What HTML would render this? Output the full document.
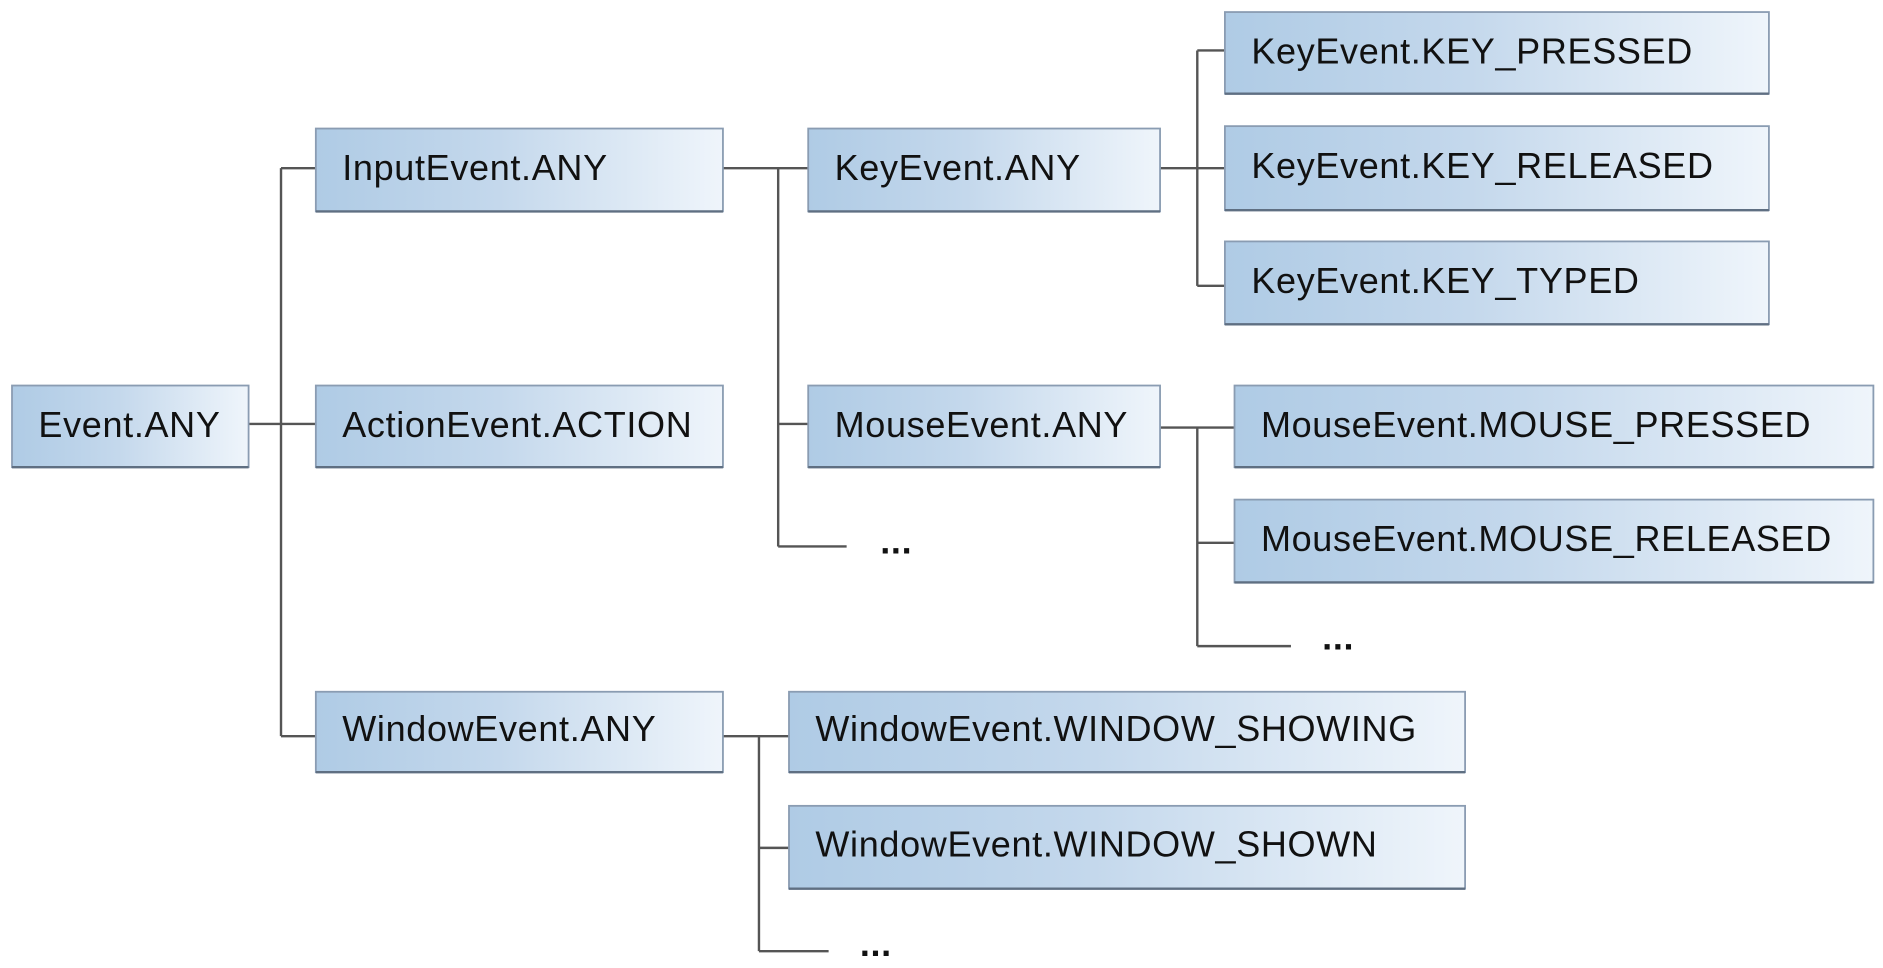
<!DOCTYPE html>
<html><head><meta charset="utf-8"><style>
html,body{margin:0;padding:0;background:#fff;}
svg{display:block;}
text{font-family:"Liberation Sans",Arial,sans-serif;font-size:30px;letter-spacing:0.55px;fill:#111;}
</style></head><body>
<svg width="1883" height="968" viewBox="0 0 1568 806" xmlns="http://www.w3.org/2000/svg">
<defs>
<linearGradient id="g" x1="0" x2="1" y1="0" y2="0">
<stop offset="0" stop-color="#afcbe5"/><stop offset="0.45" stop-color="#c4d8ec"/><stop offset="1" stop-color="#eff5fb"/>
</linearGradient>
</defs>
<g stroke="#555" stroke-width="2" fill="none">
<path d="M207 353H263M234 140V613M234 140H263M234 613H263"/>
<path d="M602 140H673M648 140V455M648 353H673M648 455H705"/>
<path d="M966 140H1020M997 42V238M997 42H1020M997 238H1020"/>
<path d="M966 356H1028M997 356V538M997 452H1028M997 538H1075"/>
<path d="M602 613H657M632 613V792M632 706H657M632 792H690"/>
</g>
<g stroke="#8a9cb2" stroke-width="1.5" fill="url(#g)">
<rect x="10" y="321" width="197" height="68"/>
<rect x="263" y="107" width="339" height="69"/>
<rect x="263" y="321" width="339" height="68"/>
<rect x="263" y="576" width="339" height="67"/>
<rect x="673" y="107" width="293" height="69"/>
<rect x="673" y="321" width="293" height="68"/>
<rect x="1020" y="10" width="453" height="68"/>
<rect x="1020" y="105" width="453" height="70"/>
<rect x="1020" y="201" width="453" height="69"/>
<rect x="1028" y="321" width="532" height="68"/>
<rect x="1028" y="416" width="532" height="69"/>
<rect x="657" y="576" width="563" height="67"/>
<rect x="657" y="671" width="563" height="69"/>
</g>
<g stroke="#5f6f82" stroke-width="2">
<path d="M10 389H207M263 176H602M263 389H602M263 643H602M673 176H966M673 389H966M1020 78H1473M1020 175H1473M1020 270H1473M1028 389H1560M1028 485H1560M657 643H1220M657 740H1220"/>
</g>
<text x="32" y="364">Event.ANY</text>
<text x="285" y="150">InputEvent.ANY</text>
<text x="285" y="364">ActionEvent.ACTION</text>
<text x="285" y="617">WindowEvent.ANY</text>
<text x="695" y="150">KeyEvent.ANY</text>
<text x="695" y="364">MouseEvent.ANY</text>
<text x="1042" y="53">KeyEvent.KEY_PRESSED</text>
<text x="1042" y="148">KeyEvent.KEY_RELEASED</text>
<text x="1042" y="244">KeyEvent.KEY_TYPED</text>
<text x="1050" y="364">MouseEvent.MOUSE_PRESSED</text>
<text x="1050" y="459">MouseEvent.MOUSE_RELEASED</text>
<text x="679" y="617">WindowEvent.WINDOW_SHOWING</text>
<text x="679" y="713">WindowEvent.WINDOW_SHOWN</text>
<text x="733" y="461" style="font-weight:bold">...</text>
<text x="1101" y="541" style="font-weight:bold">...</text>
<text x="716" y="796" style="font-weight:bold">...</text>
</svg>
</body></html>
